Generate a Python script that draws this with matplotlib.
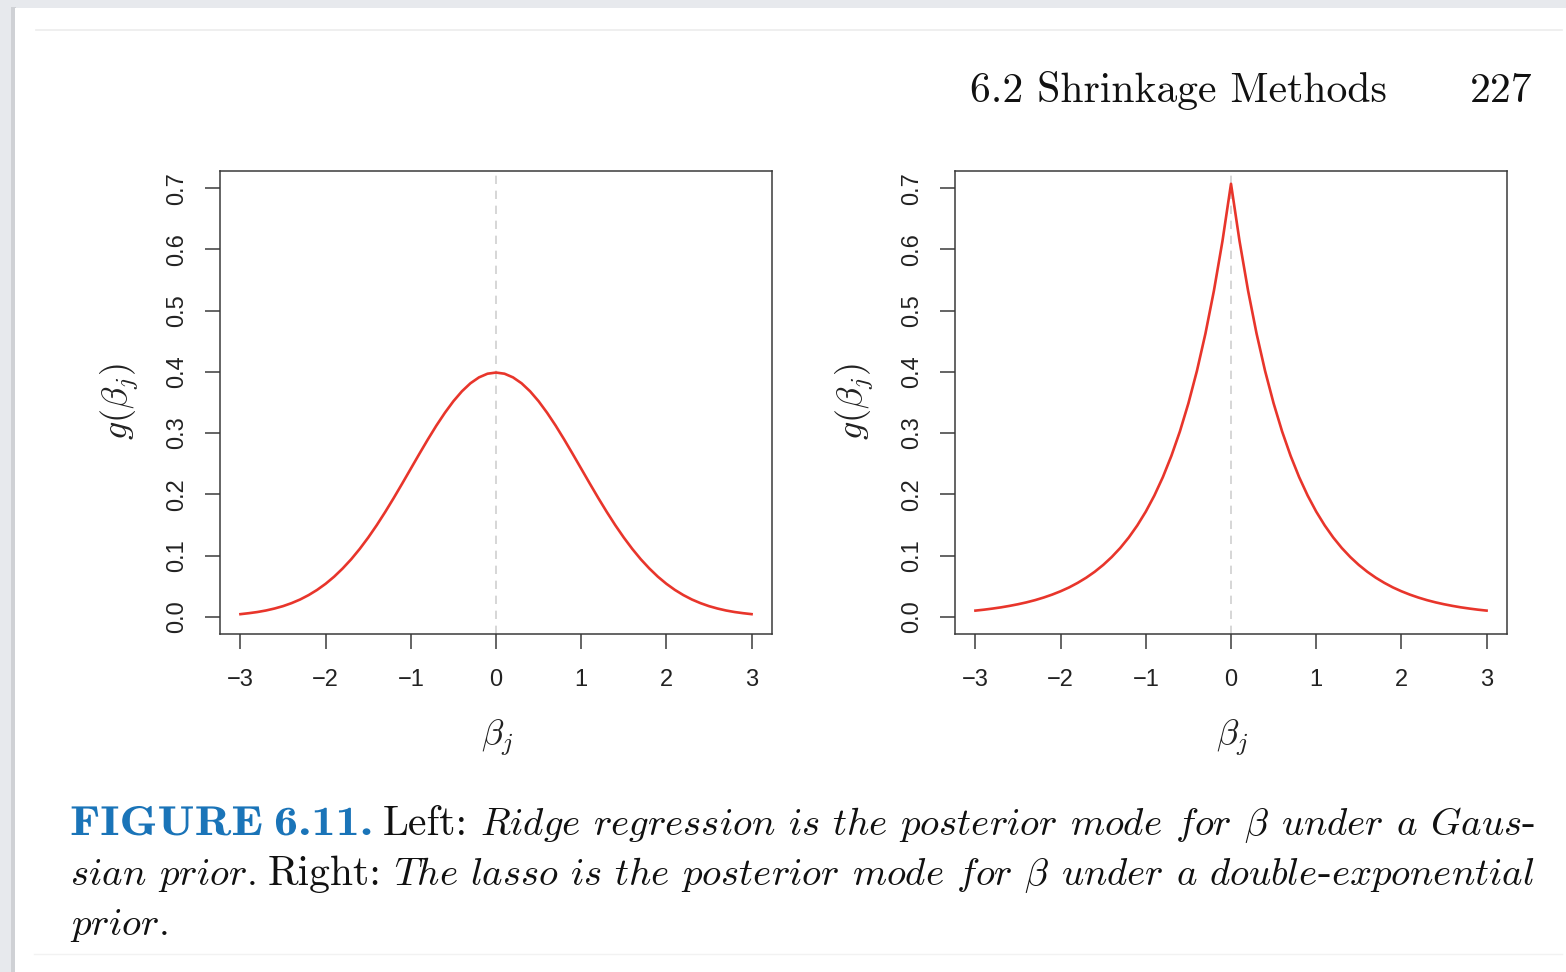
import numpy as np
import matplotlib
matplotlib.use('Agg')
import matplotlib.pyplot as plt
from matplotlib.patches import Rectangle, PathPatch
from matplotlib.lines import Line2D
from matplotlib.textpath import TextPath
from matplotlib.font_manager import FontProperties
from matplotlib.transforms import Affine2D

plt.rcParams['mathtext.fontset'] = 'cm'

# beta grid, -3 .. 3 in steps of 0.1
beta = np.arange(-30, 31) / 10

# Gaussian prior density (left panel), from 0 outwards
gauss_half = [0.3989, 0.3970, 0.3910, 0.3814, 0.3683, 0.3521, 0.3332, 0.3123, 0.2897, 0.2661,
              0.2420, 0.2179, 0.1942, 0.1714, 0.1497, 0.1295, 0.1109, 0.0940, 0.0790, 0.0656,
              0.0540, 0.0440, 0.0355, 0.0283, 0.0224, 0.0175, 0.0136, 0.0104, 0.0079, 0.0060,
              0.0044]
# double-exponential prior density (right panel), from 0 outwards
laplace_half = [0.7071, 0.6138, 0.5329, 0.4626, 0.4016, 0.3487, 0.3027, 0.2628, 0.2281, 0.1980,
                0.1719, 0.1493, 0.1296, 0.1125, 0.0977, 0.0848, 0.0736, 0.0639, 0.0555, 0.0481,
                0.0418, 0.0363, 0.0315, 0.0273, 0.0237, 0.0206, 0.0179, 0.0155, 0.0135, 0.0117,
                0.0102]
gauss_density = gauss_half[::-1] + gauss_half[1:]
laplace_density = laplace_half[::-1] + laplace_half[1:]

x_ticks = [-3, -2, -1, 0, 1, 2, 3]
x_tick_labels = ['\u22123', '\u22122', '\u22121', '0', '1', '2', '3']
y_ticks = [0.0, 0.1, 0.2, 0.3, 0.4, 0.5, 0.6, 0.7]
y_tick_labels = ['0.0', '0.1', '0.2', '0.3', '0.4', '0.5', '0.6', '0.7']

header_title = '6.2 Shrinkage Methods'
header_page = '227'

# caption lines: each word is a list of (text, style) pieces
caption_lines = [
    [[('FIGURE', 'bf')], [('6.11.', 'bf')], [('Left:', 'rm')],
     [('Ridge', 'it')], [('regression', 'it')], [('is', 'it')], [('the', 'it')],
     [('posterior', 'it')], [('mode', 'it')], [('for', 'it')], [('beta', 'gr')],
     [('under', 'it')], [('a', 'it')], [('Gaus', 'it'), ('-', 'rm')]],
    [[('sian', 'it')], [('prior.', 'it')], [('Right:', 'rm')],
     [('The', 'it')], [('lasso', 'it')], [('is', 'it')], [('the', 'it')],
     [('posterior', 'it')], [('mode', 'it')], [('for', 'it')], [('beta', 'gr')],
     [('under', 'it')], [('a', 'it')],
     [('double', 'it'), ('-', 'rm'), ('exponential', 'it')]],
    [[('prior.', 'it')]],
]

W, H = 1566, 972
RED = '#e8352b'
BLUE = '#1a74b8'
AXC = '#3a3a3a'


def fx(px):
    return px / W


def fy(py):
    return 1 - py / H


fig = plt.figure(figsize=(W / 100, H / 100), dpi=100)
fig.patch.set_facecolor('#e7e9ed')

# page with a soft shadow on the left
fig.patches.append(Rectangle((fx(11), 0), fx(5), fy(7), transform=fig.transFigure,
                             facecolor='#cfd1d5', edgecolor='none', zorder=-10))
fig.patches.append(Rectangle((fx(15), 0), 1 - fx(15), fy(8), transform=fig.transFigure,
                             facecolor='white', edgecolor='none', zorder=-9))
fig.lines.append(Line2D([fx(36), fx(1562)], [fy(30), fy(30)], transform=fig.transFigure,
                        color='#ececec', lw=1.2, zorder=-8))
fig.lines.append(Line2D([fx(34), fx(1562)], [fy(954), fy(954)], transform=fig.transFigure,
                        color='#f2f2f2', lw=1.0, zorder=-8))


def make_panel(left_px, density):
    ax = fig.add_axes([fx(left_px), fy(634), 552 / W, 463 / H])
    ax.axvline(0, color='#d0d0d0', lw=1.2, dashes=(5, 4), zorder=1)
    ax.plot(beta, density, color=RED, lw=1.9, zorder=2)
    ax.set_xlim(-3.24, 3.24)
    ax.set_ylim(-0.028, 0.728)
    ax.set_xticks(x_ticks)
    ax.set_xticklabels(x_tick_labels, family='Liberation Sans', fontsize=17)
    ax.set_yticks(y_ticks)
    ax.set_yticklabels(y_tick_labels, family='Liberation Sans', fontsize=17,
                       rotation=90, va='center')
    ax.tick_params(direction='out', length=11, width=1.1, color=AXC, labelcolor='#222222')
    ax.tick_params(axis='x', pad=14)
    ax.tick_params(axis='y', pad=12)
    for sp in ax.spines.values():
        sp.set_color(AXC)
        sp.set_linewidth(1.1)
    fig.text(fx(left_px + 277), fy(738), r'$\beta_j$', fontsize=26,
             ha='center', va='center', color='#222222')
    fig.text(fx(left_px - 100), fy(402), r'$g(\beta_j)$', fontsize=26,
             ha='center', va='center', rotation=90, color='#222222')
    return ax


make_panel(220, gauss_density)
make_panel(955, laplace_density)

# running header
fig.text(fx(970), fy(102), header_title, family='cmr10', fontsize=30,
         ha='left', va='baseline', color='#111111')
fig.text(fx(1533), fy(102), header_page, family='cmr10', fontsize=30,
         ha='right', va='baseline', color='#111111')

# caption, set as justified text
renderer = fig.canvas.get_renderer()
cap_fs = 30
it_fs = 28
cap_left, cap_right = 70, 1535
baselines = [835, 885, 935]
bold_stretch = 1.16
bold_prop = FontProperties(family='cmb10')


class BoldWord:
    # bold extended look: cmb10 outline stretched sideways
    def __init__(self, s):
        self.path = TextPath((0, 0), s, size=cap_fs * 100 / 72, prop=bold_prop)
        ext = self.path.get_extents()
        self.width = ext.x1 * bold_stretch
        self.patch = PathPatch(self.path, facecolor=BLUE, edgecolor='none', lw=0)
        fig.patches.append(self.patch)

    def place(self, x, y):
        self.patch.set_transform(Affine2D().scale(bold_stretch, 1).translate(x, H - y))


def piece(s, style):
    if style == 'bf':
        return BoldWord(s)
    if style == 'rm':
        t = fig.text(0, 0, s, family='cmr10', fontsize=cap_fs, color='#111111', va='baseline')
    elif style == 'gr':
        t = fig.text(0, 0, r'$\%s$' % s, fontsize=it_fs, color='#111111', va='baseline')
    else:
        t = fig.text(0, 0, r'$\mathit{%s}$' % s, fontsize=it_fs, color='#111111', va='baseline')
    t.width = t.get_window_extent(renderer).width
    t.place = lambda x, y, t=t: t.set_position((fx(x), fy(y)))
    return t


for li, words in enumerate(caption_lines):
    built = []
    total = 0
    for word in words:
        parts = [piece(s, style) for s, style in word]
        total += sum(p.width for p in parts)
        built.append(parts)
    if li < len(caption_lines) - 1 and len(built) > 1:
        gap = (cap_right - cap_left - total) / (len(built) - 1)
    else:
        gap = 10
    x = cap_left
    for parts in built:
        for p in parts:
            p.place(x, baselines[li])
            x += p.width
        x += gap

fig.savefig('out.png', dpi=100, facecolor=fig.get_facecolor())
